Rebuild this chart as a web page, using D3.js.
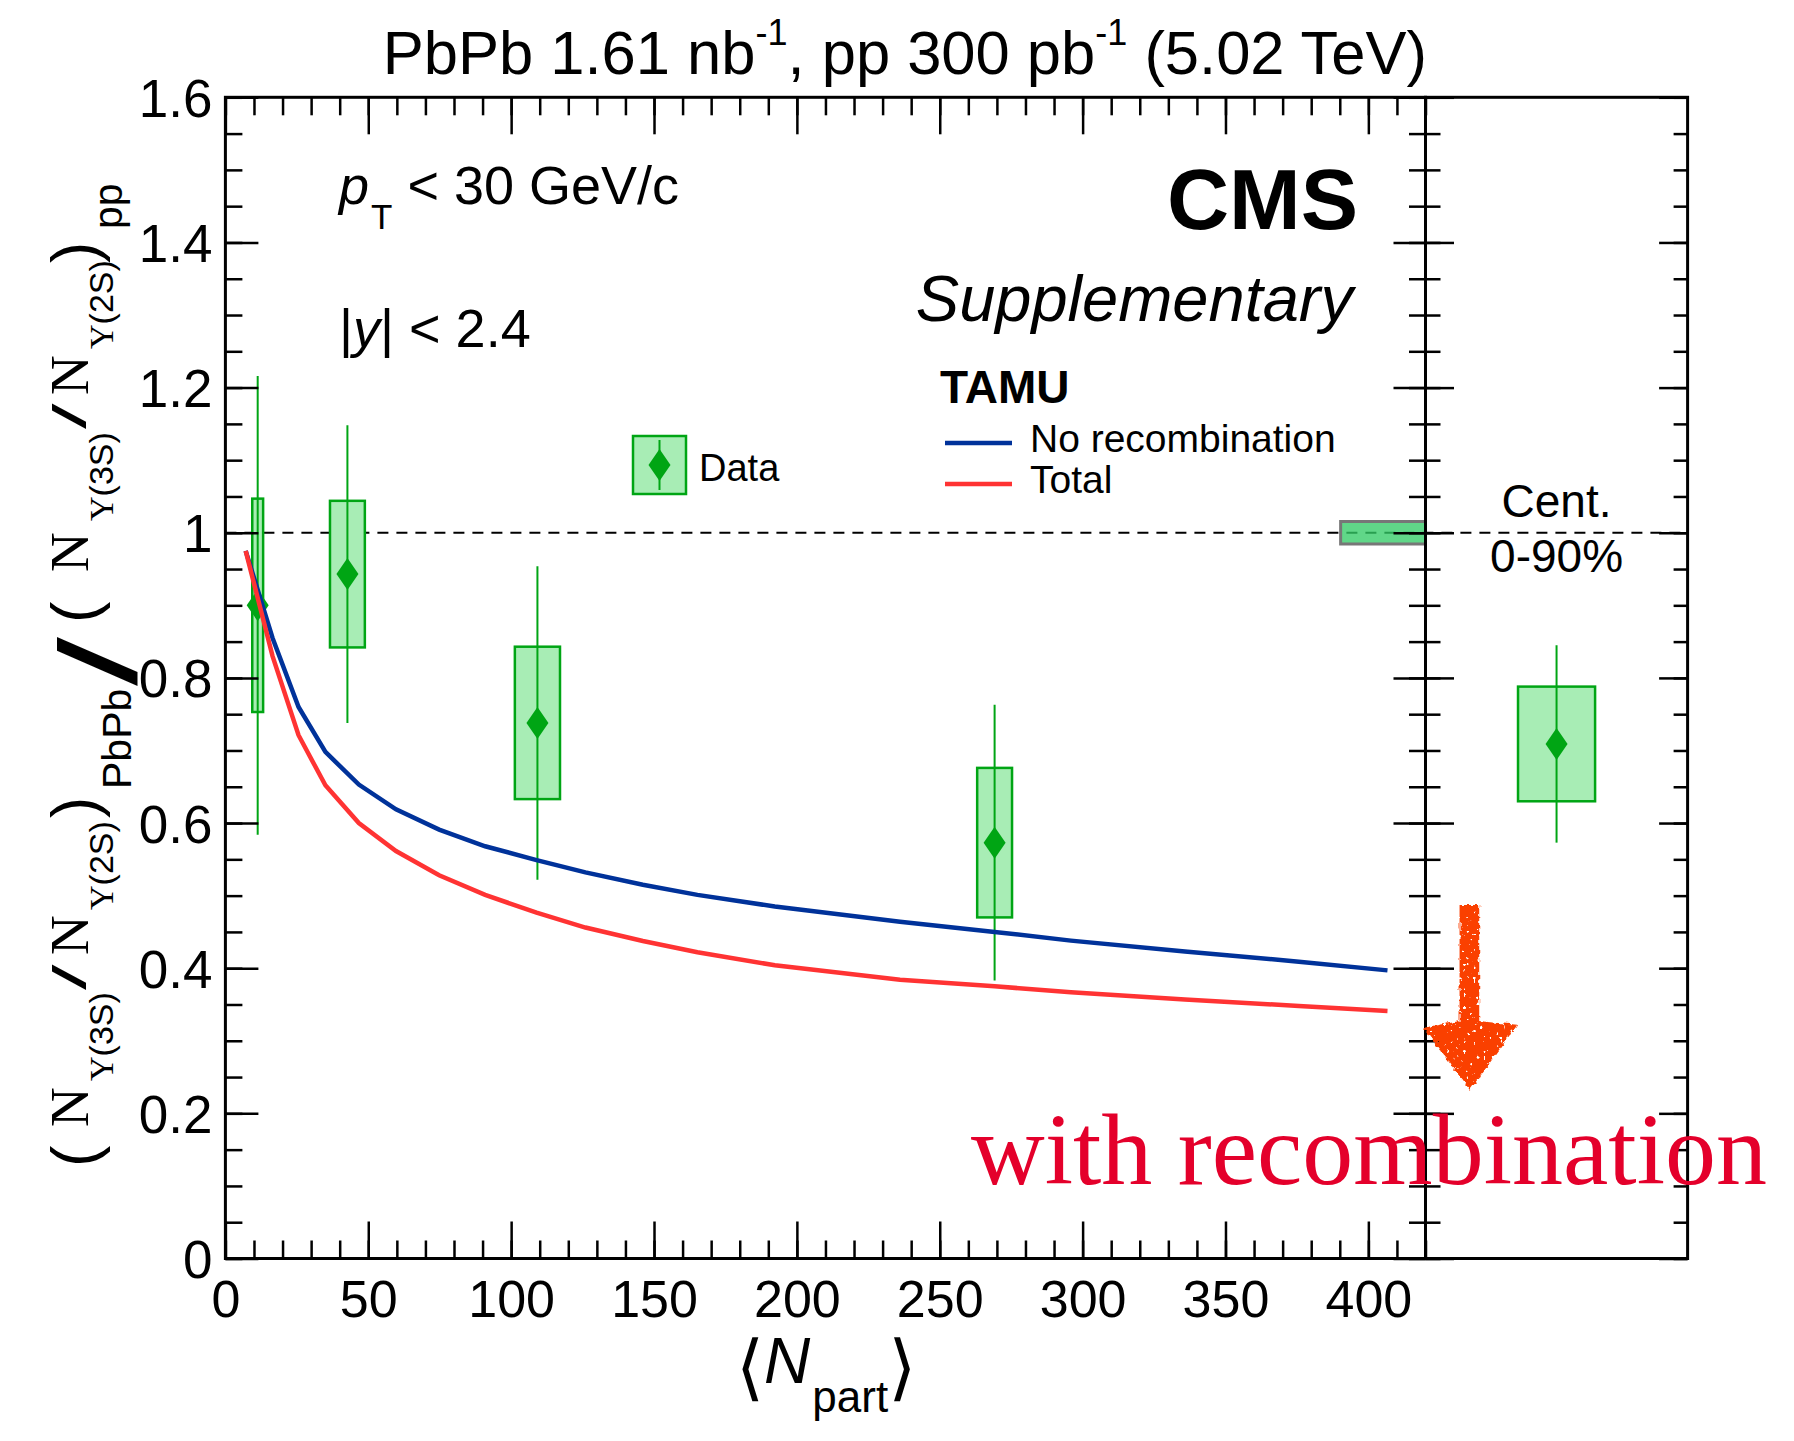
<!DOCTYPE html>
<html>
<head>
<meta charset="utf-8">
<script src="https://cdn.jsdelivr.net/npm/d3@7"></script>
<style>
  body { margin: 0; background: #fff; }
  svg { display: block; }
</style>
</head>
<body>
<div id="app"></div>
<script>
// ---- data ----
const npart      = [11.3, 42.7, 109.2, 269.2]
const ratio      = [0.900, 0.943, 0.738, 0.573]
const statErr    = [0.316, 0.205, 0.216, 0.190]
const systErr    = [0.147, 0.101, 0.105, 0.103]
const boxHalfW   = [1.9, 6.1, 7.9, 6.1]          // box half-width in Npart units

const intRatio   = 0.709   // integrated 0-90%
const intStat    = 0.136
const intSyst    = 0.079
const intBoxHalf = 0.147   // in right-panel units (0..1)

const globalUnc     = 0.0155
const globalBoxFrom = 390.3

const theoryNpart = [7.1, 16.5, 25.6, 35.0, 46.7, 59.7, 74.8, 90.9, 108.9, 126.0, 146.1, 165.2, 192.3, 236.1, 269.2, 295.9, 335.8, 375.7, 406.7]
const noRecomb    = [0.975, 0.855, 0.760, 0.698, 0.653, 0.619, 0.591, 0.568, 0.549, 0.532, 0.515, 0.501, 0.485, 0.464, 0.450, 0.438, 0.423, 0.409, 0.397]
const total       = [0.975, 0.830, 0.721, 0.652, 0.600, 0.5615, 0.528, 0.501, 0.4765, 0.456, 0.4375, 0.422, 0.404, 0.384, 0.375, 0.367, 0.357, 0.348, 0.341]

const xTickValues = [0, 50, 100, 150, 200, 250, 300, 350, 400]
const yTickValues = [0, 0.2, 0.4, 0.6, 0.8, 1, 1.2, 1.4, 1.6]
const yTickLabels = ['0', '0.2', '0.4', '0.6', '0.8', '1', '1.2', '1.4', '1.6']

// hand-drawn arrow annotation (right panel units, ratio units)
const arrowX = [0.13, 0.205, 0.35, 0.17, -0.01]
const arrowY = [0.487, 0.327, 0.322, 0.232, 0.318]

// ---- layout ----
const width = 1794
const height = 1441
const green = '#00a514'
const boxFill = '#a8edb5'
const blue = '#00329a'
const red = '#ff3333'
const sans = '"Liberation Sans", Arial, Helvetica, sans-serif'
const serif = '"Liberation Serif", "Times New Roman", serif'

const x = d3.scaleLinear().domain([0, 420]).range([225.4, 1425.5])
const y = d3.scaleLinear().domain([0, 1.6]).range([1258.5, 97.3])
const xr = d3.scaleLinear().domain([0, 1]).range([1425.5, 1687.6])

const svg = d3.select('#app')
    .append('svg')
    .attr('viewBox', [0, 0, width, height])
    .attr('width', width)
    .attr('height', height)
    .style('font-family', sans)

const defs = svg.append('defs')
const rough = defs.append('filter').attr('id', 'rough')
    .attr('x', '-20%').attr('y', '-20%').attr('width', '140%').attr('height', '140%')
rough.append('feTurbulence').attr('type', 'fractalNoise').attr('baseFrequency', 0.2)
    .attr('numOctaves', 2).attr('seed', 4).attr('result', 'noise')
rough.append('feDisplacementMap').attr('in', 'SourceGraphic').attr('in2', 'noise')
    .attr('scale', 6).attr('xChannelSelector', 'R').attr('yChannelSelector', 'G').attr('result', 'disp')
rough.append('feTurbulence').attr('type', 'fractalNoise').attr('baseFrequency', 0.3)
    .attr('numOctaves', 1).attr('seed', 9).attr('result', 'n2')
rough.append('feColorMatrix').attr('in', 'n2').attr('type', 'matrix')
    .attr('values', '0 0 0 0 0  0 0 0 0 0  0 0 0 0 0  0 0 0 20 -13.4').attr('result', 'holes')
rough.append('feComposite').attr('in', 'disp').attr('in2', 'holes').attr('operator', 'out')

// ---- dashed line at 1 and global uncertainty ----
svg.append('line')
    .attr('x1', x(0)).attr('x2', xr(1))
    .attr('y1', y(1)).attr('y2', y(1))
    .attr('stroke', '#000')
    .attr('stroke-width', 2)
    .attr('stroke-dasharray', '11 8')

svg.append('rect')
    .attr('x', x(globalBoxFrom))
    .attr('y', y(1 + globalUnc))
    .attr('width', x(420) - x(globalBoxFrom))
    .attr('height', y(1 - globalUnc) - y(1 + globalUnc))
    .attr('fill', 'rgb(51,204,102)')
    .attr('fill-opacity', 0.78)
    .attr('stroke', '#777')
    .attr('stroke-width', 3)

// ---- data: boxes, error bars, diamonds ----
const pts = npart.map((n, i) => ({n, v: ratio[i], s: statErr[i], sy: systErr[i], w: boxHalfW[i]}))

svg.append('g')
    .selectAll('rect')
    .data(pts)
    .join('rect')
    .attr('x', d => x(d.n - d.w))
    .attr('y', d => y(d.v + d.sy))
    .attr('width', d => x(d.n + d.w) - x(d.n - d.w))
    .attr('height', d => y(d.v - d.sy) - y(d.v + d.sy))
    .attr('fill', boxFill)
    .attr('stroke', green)
    .attr('stroke-width', 2.5)

svg.append('g')
    .selectAll('line')
    .data(pts)
    .join('line')
    .attr('x1', d => x(d.n)).attr('x2', d => x(d.n))
    .attr('y1', d => y(d.v + d.s)).attr('y2', d => y(d.v - d.s))
    .attr('stroke', green)
    .attr('stroke-width', 2)

const diamond = 'M0,-16L11,0L0,16L-11,0Z'

svg.append('g')
    .selectAll('path')
    .data(pts)
    .join('path')
    .attr('d', diamond)
    .attr('transform', d => `translate(${x(d.n)},${y(d.v)})`)
    .attr('fill', green)

// integrated point in right panel
svg.append('rect')
    .attr('x', xr(0.5 - intBoxHalf))
    .attr('y', y(intRatio + intSyst))
    .attr('width', xr(0.5 + intBoxHalf) - xr(0.5 - intBoxHalf))
    .attr('height', y(intRatio - intSyst) - y(intRatio + intSyst))
    .attr('fill', boxFill)
    .attr('stroke', green)
    .attr('stroke-width', 2.5)
svg.append('line')
    .attr('x1', xr(0.5)).attr('x2', xr(0.5))
    .attr('y1', y(intRatio + intStat)).attr('y2', y(intRatio - intStat))
    .attr('stroke', green)
    .attr('stroke-width', 2)
svg.append('path')
    .attr('d', diamond)
    .attr('transform', `translate(${xr(0.5)},${y(intRatio)})`)
    .attr('fill', green)

// ---- TAMU curves ----
const line = d3.line().x(d => x(d[0])).y(d => y(d[1]))

svg.append('path')
    .datum(theoryNpart.map((n, i) => [n, noRecomb[i]]))
    .attr('d', line)
    .attr('fill', 'none')
    .attr('stroke', blue)
    .attr('stroke-width', 4.5)

svg.append('path')
    .datum(theoryNpart.map((n, i) => [n, total[i]]))
    .attr('d', line)
    .attr('fill', 'none')
    .attr('stroke', red)
    .attr('stroke-width', 4.5)

// ---- frames and axes ----
const tidy = g => {
    g.select('.domain').remove()
    g.selectAll('line').attr('stroke-width', 2.5)
}

// bottom
svg.append('g')
    .attr('transform', `translate(0,${y(0)})`)
    .call(d3.axisBottom(x).tickValues(d3.range(0, 421, 10)).tickSize(-18).tickFormat(''))
    .call(tidy)
svg.append('g')
    .attr('transform', `translate(0,${y(0)})`)
    .call(d3.axisBottom(x).tickValues(xTickValues).tickSize(-37).tickFormat(d => d))
    .call(tidy)
    .call(g => g.selectAll('text')
        .attr('y', 58.5).attr('dy', null)
        .attr('font-size', 52).attr('font-family', sans).attr('fill', '#000'))

// top
svg.append('g')
    .attr('transform', `translate(0,${y(1.6)})`)
    .call(d3.axisTop(x).tickValues(d3.range(0, 421, 10)).tickSize(-18).tickFormat(''))
    .call(tidy)
svg.append('g')
    .attr('transform', `translate(0,${y(1.6)})`)
    .call(d3.axisTop(x).tickValues(xTickValues).tickSize(-37).tickFormat(''))
    .call(tidy)

// left
const yMinor = d3.range(0, 33).map(i => i * 0.05)
svg.append('g')
    .attr('transform', `translate(${x(0)},0)`)
    .call(d3.axisLeft(y).tickValues(yMinor).tickSize(-17).tickFormat(''))
    .call(tidy)
svg.append('g')
    .attr('transform', `translate(${x(0)},0)`)
    .call(d3.axisLeft(y).tickValues(yTickValues).tickSize(-33)
        .tickFormat((d, i) => yTickLabels[i]))
    .call(tidy)
    .call(g => g.selectAll('text')
        .attr('x', -13).attr('dy', '0.36em')
        .attr('font-size', 53).attr('font-family', sans).attr('fill', '#000'))

// main panel right edge (ticks pointing in) and right panel edges
const vTicks = (xpos, major, minor) => {
    svg.append('g')
        .attr('transform', `translate(${xpos},0)`)
        .call(d3.axisRight(y).tickValues(yMinor).tickSize(minor).tickFormat(''))
        .call(tidy)
    svg.append('g')
        .attr('transform', `translate(${xpos},0)`)
        .call(d3.axisRight(y).tickValues(yTickValues).tickSize(major).tickFormat(''))
        .call(tidy)
}
vTicks(x(420), -32, -16.5)
vTicks(xr(0), 28.5, 15)
vTicks(xr(1), -28.5, -14)

svg.append('rect')
    .attr('x', x(0)).attr('y', y(1.6))
    .attr('width', x(420) - x(0)).attr('height', y(0) - y(1.6))
    .attr('fill', 'none').attr('stroke', '#000').attr('stroke-width', 3)
svg.append('rect')
    .attr('x', xr(0)).attr('y', y(1.6))
    .attr('width', xr(1) - xr(0)).attr('height', y(0) - y(1.6))
    .attr('fill', 'none').attr('stroke', '#000').attr('stroke-width', 3)

// ---- texts ----
const title = svg.append('text')
    .attr('x', 1427).attr('y', 74)
    .attr('text-anchor', 'end')
    .attr('font-size', 61.5)
title.append('tspan').text('PbPb 1.61 nb')
title.append('tspan').attr('font-size', 36).attr('dy', -29).text('-1')
title.append('tspan').attr('dy', 29).text(', pp 300 pb')
title.append('tspan').attr('font-size', 36).attr('dy', -29).text('-1')
title.append('tspan').attr('dy', 29).text(' (5.02 TeV)')

svg.append('text')
    .attr('x', 1358).attr('y', 229)
    .attr('text-anchor', 'end')
    .attr('font-size', 86)
    .attr('font-weight', 'bold')
    .text('CMS')

svg.append('text')
    .attr('x', 1353).attr('y', 321)
    .attr('text-anchor', 'end')
    .attr('font-size', 65)
    .attr('font-style', 'italic')
    .text('Supplementary')

const pt = svg.append('text').attr('x', 339).attr('y', 204).attr('font-size', 54)
pt.append('tspan').attr('font-style', 'italic').text('p')
pt.append('tspan').attr('font-size', 35).attr('dy', 25).attr('dx', 2).text('T')
pt.append('tspan').attr('dy', -25).text(' < 30 GeV/c')

const rap = svg.append('text').attr('x', 339).attr('y', 347).attr('font-size', 54)
rap.append('tspan').text('|')
rap.append('tspan').attr('font-style', 'italic').text('y')
rap.append('tspan').text('| < 2.4')

// legend
svg.append('text')
    .attr('x', 940).attr('y', 403)
    .attr('font-size', 46).attr('font-weight', 'bold')
    .text('TAMU')

const legend = [
    {label: 'No recombination', color: blue, ly: 443},
    {label: 'Total', color: red, ly: 484}
]
svg.append('g')
    .selectAll('line')
    .data(legend)
    .join('line')
    .attr('x1', 945).attr('x2', 1012)
    .attr('y1', d => d.ly).attr('y2', d => d.ly)
    .attr('stroke', d => d.color)
    .attr('stroke-width', 4.5)
svg.append('g')
    .selectAll('text')
    .data(legend)
    .join('text')
    .attr('x', 1030).attr('y', d => d.ly + 9)
    .attr('font-size', 39)
    .text(d => d.label)

svg.append('rect')
    .attr('x', 633).attr('y', 436).attr('width', 53).attr('height', 58)
    .attr('fill', boxFill).attr('stroke', green).attr('stroke-width', 2.5)
svg.append('line')
    .attr('x1', 659.5).attr('x2', 659.5).attr('y1', 440).attr('y2', 490)
    .attr('stroke', green).attr('stroke-width', 2)
svg.append('path')
    .attr('d', diamond)
    .attr('transform', 'translate(659.5,465)')
    .attr('fill', green)
svg.append('text')
    .attr('x', 699).attr('y', 481)
    .attr('font-size', 38)
    .text('Data')

// centrality
svg.append('text')
    .attr('x', xr(0.5)).attr('y', 517)
    .attr('text-anchor', 'middle').attr('font-size', 46)
    .text('Cent.')
svg.append('text')
    .attr('x', xr(0.5)).attr('y', 572)
    .attr('text-anchor', 'middle').attr('font-size', 46)
    .text('0-90%')

// x-axis title as one text
const xt = svg.append('text').attr('x', 736).attr('y', 1392).attr('font-size', 64)
xt.append('tspan').attr('font-family', '"DejaVu Sans", sans-serif').attr('font-size', 72).text('⟨')
xt.append('tspan').attr('font-style', 'italic').attr('dy', -9).text('N')
xt.append('tspan').attr('font-size', 44).attr('dy', 29).attr('dx', 2).text('part')
xt.append('tspan').attr('font-family', '"DejaVu Sans", sans-serif').attr('font-size', 72)
    .attr('dy', -20).text('⟩')

// y-axis title, built piece by piece in the rotated frame
const yt = svg.append('g').attr('transform', 'rotate(-90)')
const piece = (start, base, txt, size, family, sx) => {
    yt.append('text')
        .attr('transform', `translate(${-start},${base}) scale(${sx || 1},1)`)
        .attr('font-size', size)
        .attr('font-family', family)
        .text(txt)
}
const upsilon = (start, base, state) => {
    const t = yt.append('text')
        .attr('transform', `translate(${-start},${base})`)
        .attr('font-size', 34)
    t.append('tspan').attr('font-family', serif).text('Υ')
    t.append('tspan').attr('font-family', sans).text(`(${state})`)
}
const half = (o, sub, subSize, subBase) => {
    piece(o[0], 97, '(', 64, sans)
    piece(o[1], 88, 'N', 55, serif)
    upsilon(o[2], 113, '3S')
    piece(o[3], 86, '/', 46, sans, 2.0)
    piece(o[4], 88, 'N', 55, serif)
    upsilon(o[5], 113, '2S')
    piece(o[6], 97, ')', 64, sans)
    piece(o[7], subBase, sub, subSize, sans)
}
half([1167, 1127, 1081, 990, 955, 910, 818, 789], 'PbPb', 41, 131)
piece(686, 136, '/', 110, sans, 1.6)
half([623, 572, 521, 429, 395, 349, 263, 229], 'pp', 41, 122)

// annotation
svg.append('path')
    .attr('d', d3.line()([
        [xr(arrowX[0]), y(arrowY[0])],
        [xr(arrowX[1]), y(arrowY[0])],
        [xr(arrowX[1]), y(arrowY[1])],
        [xr(arrowX[2]), y(arrowY[2])],
        [xr(arrowX[3]), y(arrowY[3])],
        [xr(arrowX[4]), y(arrowY[4])],
        [xr(arrowX[0]), y(arrowY[1])]
    ]) + 'Z')
    .attr('fill', '#fa4000')
    .attr('filter', 'url(#rough)')

svg.append('text')
    .attr('x', 971).attr('y', 1184)
    .attr('font-size', 102)
    .attr('font-family', serif)
    .attr('fill', '#e4002b')
    .text('with recombination')
</script>
</body>
</html>
